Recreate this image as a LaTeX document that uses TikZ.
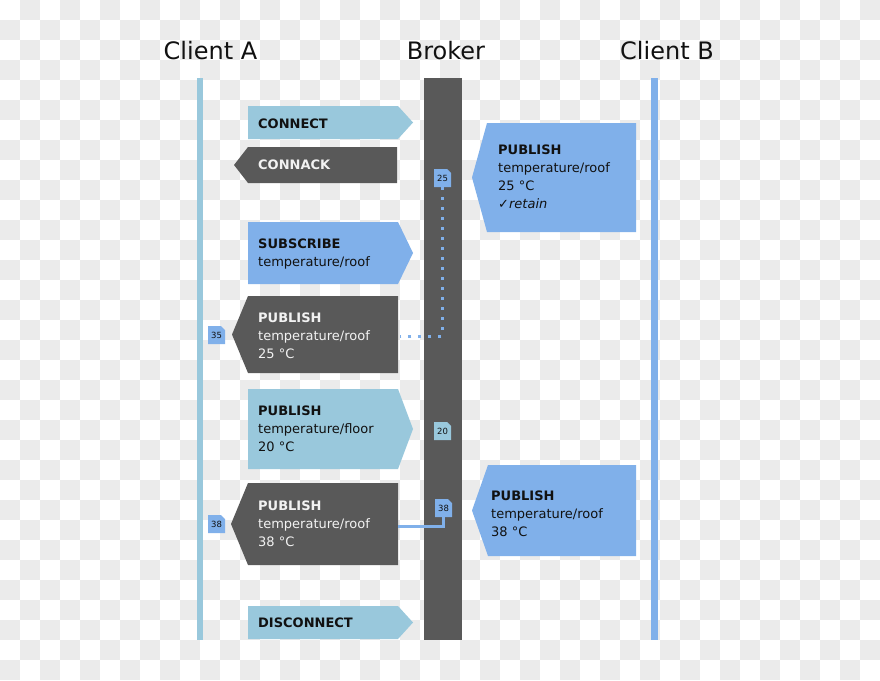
\documentclass[tikz,border=0pt]{standalone}
\usepackage{fontspec}
\setmainfont{DejaVu Sans}
\definecolor{lblue}{HTML}{99C8DC}
\definecolor{mblue}{HTML}{80B0EA}
\definecolor{dgray}{HTML}{595959}
\definecolor{chk}{HTML}{EBEBEB}
\definecolor{ink}{HTML}{111111}
\definecolor{wink}{HTML}{F2F2F2}
\newcommand\tagmark[5]{%
  \fill[#4] (#2,#3) -- ++(13,0) -- ++(4,4) -- ++(0,14) -- ++(-17,0) -- cycle;
  \node[tagtxt] (#1) at ({#2+8.5},{#3+9}) {#5};}
\begin{document}
\begin{tikzpicture}[x=1pt,y=-1pt,
  msg/.style={anchor=north west, align=left, inner sep=0pt, text=ink,
    font=\fontsize{13}{18}\selectfont},
  dmsg/.style={msg, text=wink},
  title/.style={anchor=base, inner sep=0pt, text=ink, font=\fontsize{24}{28}\selectfont},
  tagtxt/.style={inner sep=0pt, minimum width=17pt, minimum height=18pt, text=ink,
    font=\fontsize{8.5}{10}\selectfont},
  link/.style={mblue, line width=3pt}]
\useasboundingbox (0,0) rectangle (880,680);
% checkerboard background
\fill[white] (0,0) rectangle (880,680);
\foreach \i in {0,2,...,42}{\foreach \j in {1,3,...,33}{\fill[chk] (\i*20,\j*20) rectangle ++(20,20);}}
\foreach \i in {1,3,...,43}{\foreach \j in {0,2,...,32}{\fill[chk] (\i*20,\j*20) rectangle ++(20,20);}}
% titles
\node[title] (ca) at (210.5,59) {Client A};
\node[title] (br) at (446,59) {Broker};
\node[title] (cb) at (667,59) {Client B};
% lifelines
\fill[lblue] (197,78) rectangle (203,640);
\fill[dgray] (424,78) rectangle (461.5,640);
\fill[mblue] (651,78) rectangle (658,640);
% messages
\fill[lblue] (248,106) -- (398,106) -- (413,122.5) -- (398,139) -- (248,139) -- cycle;
\node[msg] (m1) at (258,118.5) {\textbf{CONNECT}};
\fill[dgray] (397,147) -- (248,147) -- (234,165) -- (248,183) -- (397,183) -- cycle;
\node[dmsg] (m2) at (258,159.5) {\textbf{CONNACK}};
\fill[mblue] (248,222) -- (398,222) -- (413,253) -- (398,284) -- (248,284) -- cycle;
\node[msg] (m3) at (258,238.5) {\textbf{SUBSCRIBE}\\temperature/roof};
\fill[dgray] (398,296) -- (248,296) -- (232,334.5) -- (248,373) -- (398,373) -- cycle;
\node[dmsg] (m4) at (258,312.5) {\textbf{PUBLISH}\\temperature/roof\\25 °C};
\fill[lblue] (248,389) -- (398,389) -- (413,429) -- (398,469) -- (248,469) -- cycle;
\node[msg] (m5) at (258,405.5) {\textbf{PUBLISH}\\temperature/floor\\20 °C};
\fill[dgray] (398,483) -- (248,483) -- (231,524) -- (248,565) -- (398,565) -- cycle;
\node[dmsg] (m6) at (258,500.5) {\textbf{PUBLISH}\\temperature/roof\\38 °C};
\fill[lblue] (248,606) -- (398,606) -- (413,622.5) -- (398,639) -- (248,639) -- cycle;
\node[msg] (m7) at (258,618) {\textbf{DISCONNECT}};
\fill[mblue] (636,123) -- (487,123) -- (472,177.5) -- (487,232) -- (636,232) -- cycle;
\node[msg] (m8) at (498,144.5) {\textbf{PUBLISH}\\temperature/roof\\25 °C\\✓\textit{retain}};
\fill[mblue] (636,465) -- (488,465) -- (472,510.5) -- (488,556) -- (636,556) -- cycle;
\node[msg] (m9) at (491,490.5) {\textbf{PUBLISH}\\temperature/roof\\38 °C};
% message-id tags
\tagmark{t25}{434}{169}{mblue}{25}
\tagmark{t35}{208}{326}{mblue}{35}
\tagmark{t20}{434}{422}{lblue}{20}
\tagmark{t38b}{435}{499}{mblue}{38}
\tagmark{t38a}{208}{515}{mblue}{38}
% connectors
\coordinate (c25) at (400,336);
\coordinate (c38) at (398,526);
\draw[link, dash pattern=on 3pt off 7pt] (t25.south) |- (c25);
\draw[link] (t38b.south) |- (c38);
\end{tikzpicture}
\end{document}
